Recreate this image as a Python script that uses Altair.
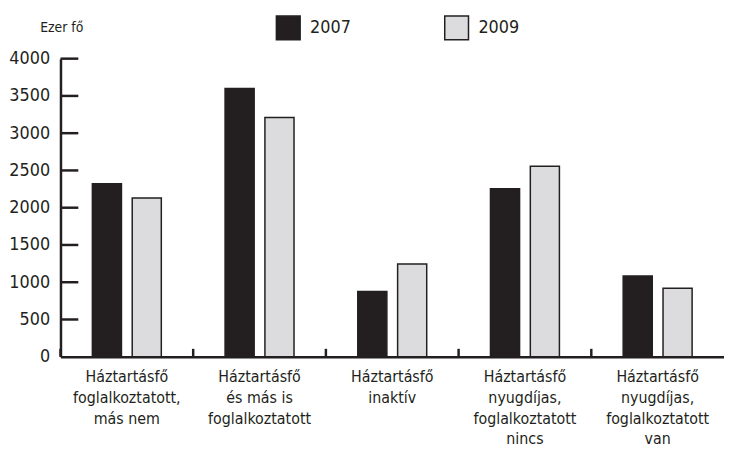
import altair as alt
import pandas as pd

categories = [
    "Háztartásfő\nfoglalkoztatott,\nmás nem",
    "Háztartásfő\nés más is\nfoglalkoztatott",
    "Háztartásfő\ninaktív",
    "Háztartásfő\nnyugdíjas,\nfoglalkoztatott\nnincs",
    "Háztartásfő\nnyugdíjas,\nfoglalkoztatott\nvan",
]
years = ["2007", "2009"]
values_2007 = [2320, 3600, 875, 2255, 1085]
values_2009 = [2130, 3210, 1245, 2555, 920]
y_ticks = [0, 500, 1000, 1500, 2000, 2500, 3000, 3500, 4000]

rows = []
for c, a, b in zip(categories, values_2007, values_2009):
    rows.append({"cat": c, "year": "2007", "value": a})
    rows.append({"cat": c, "year": "2009", "value": b})
df = pd.DataFrame(rows)
tick_df = pd.DataFrame({"v": y_ticks[1:]})
cat_df = pd.DataFrame({"cat": categories})

FONT = "DejaVu Sans Condensed, sans-serif"
INK = "#231f20"
W, H = 670, 301

xscale = alt.Scale(domain=categories, paddingInner=0, paddingOuter=0)
yscale = alt.Scale(domain=[0, 4000], nice=False)

xaxis = alt.Axis(title=None, ticks=False, domain=True, domainColor=INK,
                 domainWidth=2.5, labelAngle=0, labelAlign="center",
                 labelBaseline="top", labelFont=FONT, labelFontSize=16,
                 labelLineHeight=21, labelPadding=12, labelColor=INK,
                 labelOverlap=False,
                 labelExpr="split(datum.value, '\\n')")
yaxis = alt.Axis(values=y_ticks, format="d", ticks=False, domain=True,
                 domainColor=INK, domainWidth=2.5, labelFont=FONT,
                 labelFontSize=18, labelColor=INK, labelPadding=11,
                 labelOverlap=False, grid=False,
                 title="Ezer fő", titleAngle=0, titleAlign="left",
                 titleBaseline="alphabetic", titleX=-21, titleY=-27,
                 titleFont=FONT, titleFontSize=14, titleFontWeight="normal",
                 titleColor=INK)

bars = alt.Chart(df).mark_bar(stroke=INK, strokeWidth=1.5).encode(
    x=alt.X("cat:N", scale=xscale, sort=categories, axis=xaxis),
    xOffset=alt.XOffset("year:N", scale=alt.Scale(paddingInner=0.27, paddingOuter=0.8)),
    y=alt.Y("value:Q", scale=yscale, axis=yaxis),
    color=alt.Color("year:N", scale=alt.Scale(domain=years, range=[INK, "#dcdcde"]),
                    legend=alt.Legend(orient="none", legendX=217, legendY=-44,
                                      direction="horizontal", title=None,
                                      symbolType="square", symbolSize=576,
                                      symbolStrokeColor=INK, symbolStrokeWidth=1.5,
                                      labelFont=FONT, labelFontSize=18, labelColor=INK,
                                      labelOffset=9, columnPadding=91, padding=0)),
)

ytick_rules = alt.Chart(tick_df).mark_rule(color=INK, strokeWidth=2.5).encode(
    y=alt.Y("v:Q", scale=yscale, axis=yaxis),
    x=alt.value(0),
    x2=alt.value(18),
)

xtick_rules = alt.Chart(cat_df).mark_rule(color=INK, strokeWidth=2.5).encode(
    x=alt.X("cat:N", scale=xscale, sort=categories, bandPosition=0, axis=xaxis),
    y=alt.value(H),
    y2=alt.value(H - 8),
)

chart = alt.layer(bars, ytick_rules, xtick_rules).properties(
    width=W, height=H,
    autosize=alt.AutoSizeParams(type="none"),
    padding={"left": 53, "top": 49, "right": 0, "bottom": 91},
).configure_view(stroke=None)

chart.save("out.html", embed_options={"renderer": "svg", "actions": False})
